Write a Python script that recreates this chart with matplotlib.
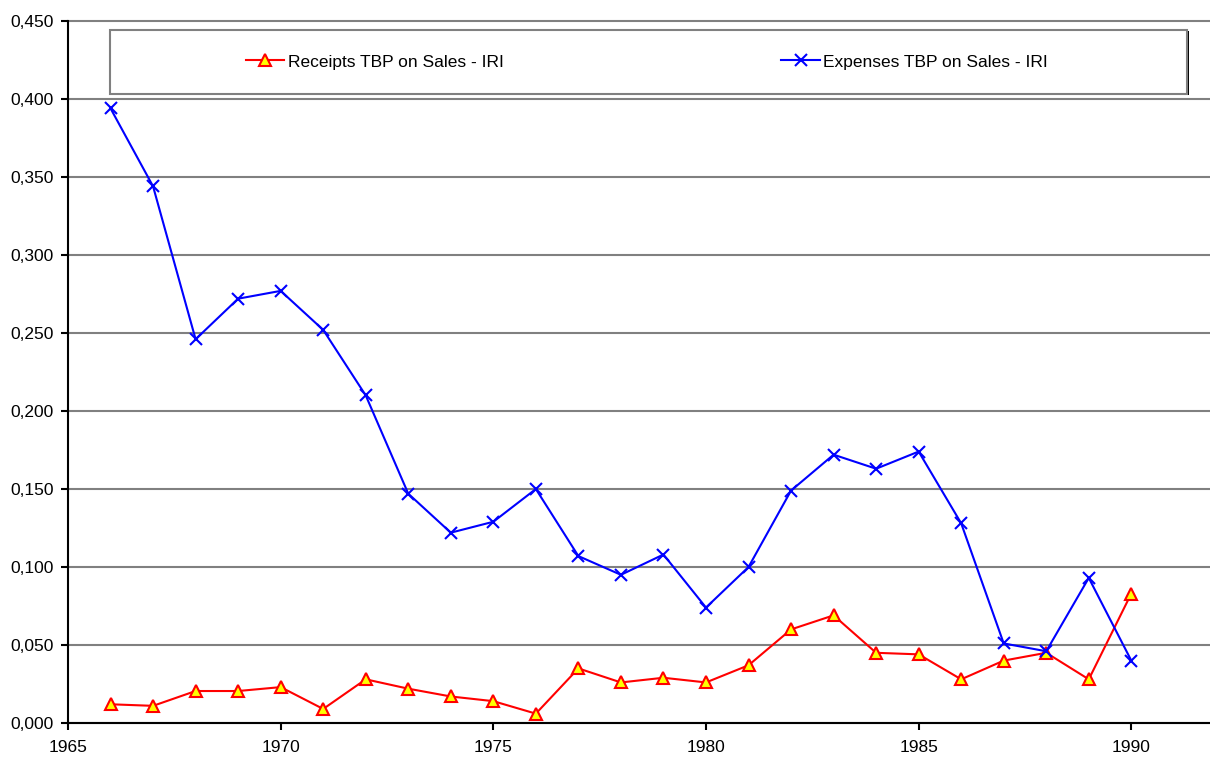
import matplotlib.pyplot as plt
from matplotlib.patches import Rectangle
from matplotlib.ticker import FuncFormatter, MultipleLocator

plt.rcParams['font.family'] = ['Liberation Sans', 'DejaVu Sans']

years = list(range(1966, 1991))
receipts = [0.012, 0.011, 0.0205, 0.0205, 0.023, 0.009, 0.028, 0.022, 0.017,
            0.014, 0.006, 0.035, 0.026, 0.029, 0.026, 0.037, 0.060, 0.069,
            0.045, 0.044, 0.028, 0.040, 0.045, 0.028, 0.083]
expenses = [0.394, 0.344, 0.246, 0.272, 0.277, 0.252, 0.210, 0.147, 0.122,
            0.129, 0.150, 0.107, 0.095, 0.108, 0.074, 0.100, 0.149, 0.172,
            0.163, 0.174, 0.128, 0.051, 0.046, 0.093, 0.040]
labels = ["Receipts TBP on Sales - IRI", "Expenses TBP on Sales - IRI"]

fig = plt.figure(figsize=(12.1, 7.58), dpi=100)
ax = fig.add_axes([68 / 1210, 1 - 723 / 758, 1 - 68 / 1210, (723 - 21) / 758])

ax.plot(years, receipts, color='red', lw=1.5, marker='^', markersize=8,
        markerfacecolor='yellow', markeredgecolor='red', markeredgewidth=1.5,
        label=labels[0], zorder=3)
ax.plot(years, expenses, color='blue', lw=1.5, marker='x', markersize=9,
        markeredgewidth=1.5, label=labels[1], zorder=3)

ax.set_xlim(1965, 1991.85)
ax.set_ylim(0, 0.45)
ax.xaxis.set_major_locator(MultipleLocator(5))
ax.yaxis.set_major_locator(MultipleLocator(0.05))
ax.yaxis.set_major_formatter(FuncFormatter(lambda v, p: f"{v:.3f}".replace('.', ',')))
ax.grid(axis='y', color='#808080', lw=1.5)
for gl in ax.get_ygridlines():
    gl.set_clip_on(False)
ax.set_axisbelow(True)
for s in ['top', 'right']:
    ax.spines[s].set_visible(False)
for s in ['left', 'bottom']:
    ax.spines[s].set_linewidth(1.5)
    ax.spines[s].set_zorder(4)
ax.tick_params(direction='out', length=5, width=1.5, labelsize=12.5)
ax.tick_params(axis='x', pad=7)
ax.tick_params(axis='y', pad=5)

# legend box
x0 = (110 - 68) / 1142
x1 = (1187 - 68) / 1142
y0 = (723 - 94) / 702
y1 = (723 - 30) / 702
ax.add_patch(Rectangle((x0 + 0.002, y0 - 0.002), x1 - x0, y1 - y0, transform=ax.transAxes,
                       facecolor='black', edgecolor='none', zorder=5, clip_on=False))
ax.add_patch(Rectangle((x0, y0), x1 - x0, y1 - y0, transform=ax.transAxes,
                       facecolor='white', edgecolor='#808080', lw=1.5, zorder=5, clip_on=False))
leg = ax.legend(loc='center', bbox_to_anchor=(0.507, 0.9416), ncol=2, frameon=False,
                fontsize=12.5, handlelength=2.2, handletextpad=0.2, columnspacing=16)
leg.set_zorder(6)

fig.savefig('out.png', dpi=100)
